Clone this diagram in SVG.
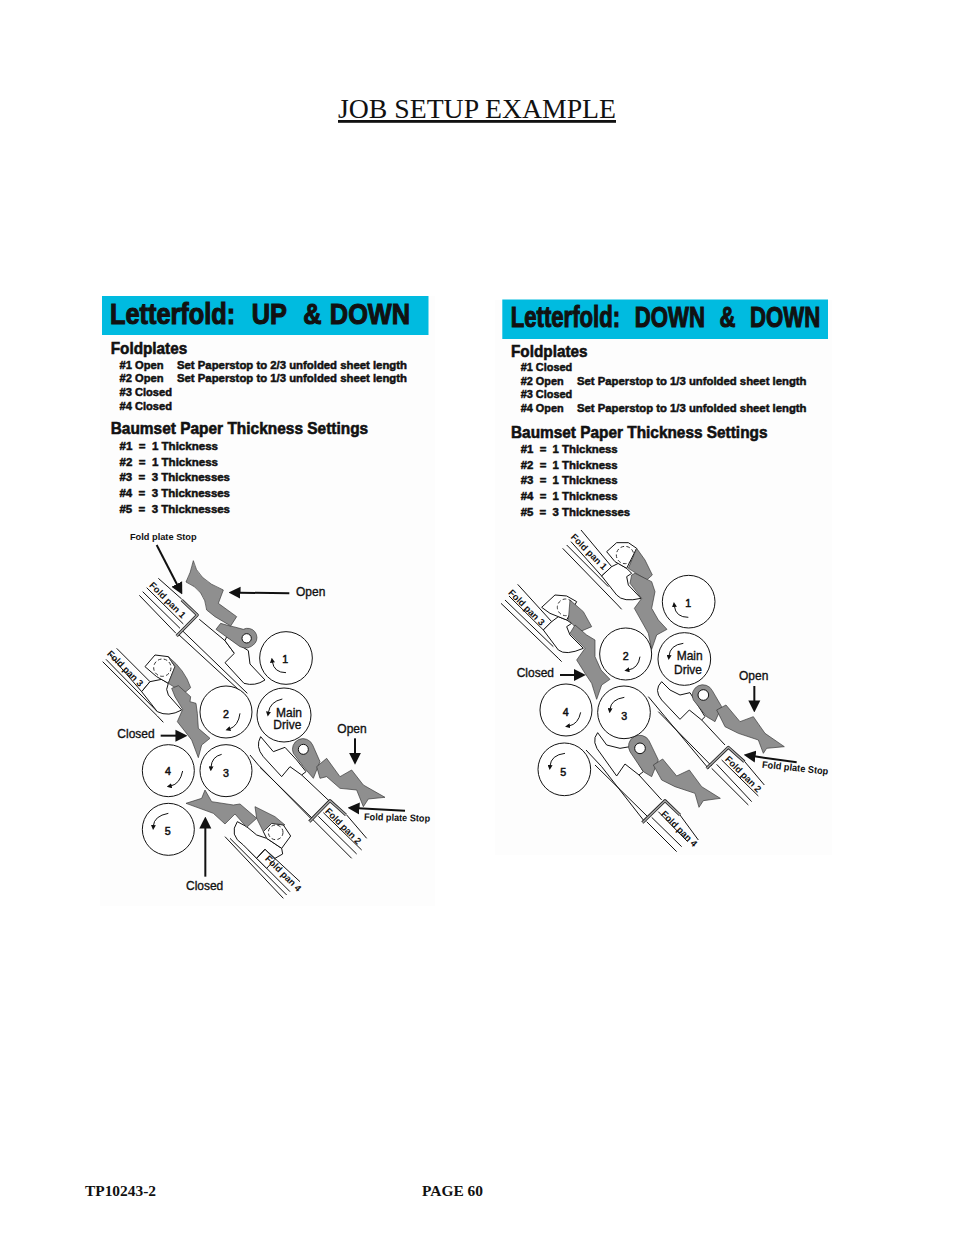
<svg xmlns="http://www.w3.org/2000/svg" width="954" height="1235" viewBox="0 0 954 1235">
<style>
text{font-family:"Liberation Sans",Arial,sans-serif;fill:#111;white-space:pre}
.serif{font-family:"Liberation Serif","Times New Roman",serif}
.h1{font-size:29px;font-weight:bold;stroke:#111;stroke-width:1.100;word-spacing:1.500px}
.h2{font-size:17px;font-weight:bold;stroke:#111;stroke-width:.6}
.t{font-size:11.500px;font-weight:bold;stroke:#111;stroke-width:.5}
.n{font-size:32px;stroke:#111;stroke-width:1.500;text-anchor:middle}
.l{font-size:36px;stroke:#111;stroke-width:1}
.s{font-size:29px;font-weight:bold}
.p{font-size:28px;font-weight:bold;text-anchor:middle}
.ln{fill:none;stroke:#111;stroke-width:3;stroke-linejoin:round}
.c{fill:#fff;stroke:#111;stroke-width:3}
.g{fill:#8f8f8f;stroke:#333;stroke-width:2;stroke-linejoin:round}
.w{fill:#fff;stroke:#111;stroke-width:3;stroke-linejoin:round}
.d{fill:none;stroke:#333;stroke-width:3;stroke-dasharray:11 7}
.bar{fill:none;stroke:#222;stroke-width:9;stroke-linejoin:round}
.bi{fill:none;stroke:#aaa;stroke-width:4;stroke-linejoin:round}
.a{fill:none;stroke:#111;stroke-width:6;marker-end:url(#big)}
.r{fill:none;stroke:#111;stroke-width:3;marker-end:url(#small)}
</style>
<defs>
<marker id="big" viewBox="0 0 10 10" refX="1" refY="5" markerUnits="userSpaceOnUse" markerWidth="36" markerHeight="38" orient="auto"><path d="M0 0L10 5L0 10Z" fill="#111"/></marker>
<marker id="small" viewBox="0 0 10 10" refX="2" refY="5" markerUnits="userSpaceOnUse" markerWidth="16" markerHeight="15" orient="auto"><path d="M0 0L10 5L0 10Z" fill="#111"/></marker>
</defs>
<rect width="954" height="1235" fill="#fff"/>
<rect x="100" y="296" width="335" height="610" fill="#fdfdfd"/>
<rect x="495" y="300" width="337" height="555" fill="#fdfdfd"/>

<g id="page-text">
<text class="serif" x="338" y="118" font-size="28" textLength="278" lengthAdjust="spacingAndGlyphs" text-decoration="underline">JOB SETUP EXAMPLE</text>
<text class="serif" x="85" y="1196" font-size="14" font-weight="bold" textLength="71" lengthAdjust="spacingAndGlyphs">TP10243-2</text>
<text class="serif" x="422" y="1196" font-size="14" font-weight="bold" textLength="61" lengthAdjust="spacingAndGlyphs">PAGE 60</text>
</g>

<g id="left-settings">
<rect x="102" y="296" width="326.500" height="39" fill="#00bbe0"/>
<text class="h1" x="110" y="324" textLength="300" lengthAdjust="spacingAndGlyphs">Letterfold:  UP  &amp; DOWN</text>
<text class="h2" x="110.700" y="353.500" textLength="76.500" lengthAdjust="spacingAndGlyphs">Foldplates</text>
<text class="t" x="119.500" y="369" textLength="44" lengthAdjust="spacingAndGlyphs">#1 Open</text>
<text class="t" x="177" y="369" textLength="230" lengthAdjust="spacingAndGlyphs">Set Paperstop to 2/3 unfolded sheet length</text>
<text class="t" x="119.500" y="382" textLength="44" lengthAdjust="spacingAndGlyphs">#2 Open</text>
<text class="t" x="177" y="382" textLength="230" lengthAdjust="spacingAndGlyphs">Set Paperstop to 1/3 unfolded sheet length</text>
<text class="t" x="119.500" y="395.700" textLength="52.500" lengthAdjust="spacingAndGlyphs">#3 Closed</text>
<text class="t" x="119.500" y="410" textLength="52.500" lengthAdjust="spacingAndGlyphs">#4 Closed</text>
<text class="h2" x="110.700" y="434" textLength="257.500" lengthAdjust="spacingAndGlyphs">Baumset Paper Thickness Settings</text>
<text class="t" x="119.500" y="450" textLength="98.500" lengthAdjust="spacingAndGlyphs">#1  =  1 Thickness</text>
<text class="t" x="119.500" y="465.700" textLength="98.500" lengthAdjust="spacingAndGlyphs">#2  =  1 Thickness</text>
<text class="t" x="119.500" y="481" textLength="110.500" lengthAdjust="spacingAndGlyphs">#3  =  3 Thicknesses</text>
<text class="t" x="119.500" y="497" textLength="110.500" lengthAdjust="spacingAndGlyphs">#4  =  3 Thicknesses</text>
<text class="t" x="119.500" y="512.700" textLength="110.500" lengthAdjust="spacingAndGlyphs">#5  =  3 Thicknesses</text>
</g>

<g id="right-settings">
<rect x="502.300" y="299.500" width="325.700" height="39.500" fill="#00bbe0"/>
<text class="h1" x="510.700" y="326.500" textLength="309.500" lengthAdjust="spacingAndGlyphs">Letterfold:  DOWN  &amp;  DOWN</text>
<text class="h2" x="511" y="357" textLength="76.500" lengthAdjust="spacingAndGlyphs">Foldplates</text>
<text class="t" x="520.700" y="371" textLength="51.500" lengthAdjust="spacingAndGlyphs">#1 Closed</text>
<text class="t" x="520.700" y="385" textLength="43" lengthAdjust="spacingAndGlyphs">#2 Open</text>
<text class="t" x="577" y="385" textLength="229.500" lengthAdjust="spacingAndGlyphs">Set Paperstop to 1/3 unfolded sheet length</text>
<text class="t" x="520.700" y="398.300" textLength="51.500" lengthAdjust="spacingAndGlyphs">#3 Closed</text>
<text class="t" x="520.700" y="412" textLength="43" lengthAdjust="spacingAndGlyphs">#4 Open</text>
<text class="t" x="577" y="412" textLength="229.500" lengthAdjust="spacingAndGlyphs">Set Paperstop to 1/3 unfolded sheet length</text>
<text class="h2" x="511" y="437.700" textLength="256.500" lengthAdjust="spacingAndGlyphs">Baumset Paper Thickness Settings</text>
<text class="t" x="520.700" y="453" textLength="97" lengthAdjust="spacingAndGlyphs">#1  =  1 Thickness</text>
<text class="t" x="520.700" y="468.700" textLength="97" lengthAdjust="spacingAndGlyphs">#2  =  1 Thickness</text>
<text class="t" x="520.700" y="484.300" textLength="97" lengthAdjust="spacingAndGlyphs">#3  =  1 Thickness</text>
<text class="t" x="520.700" y="500" textLength="97" lengthAdjust="spacingAndGlyphs">#4  =  1 Thickness</text>
<text class="t" x="520.700" y="516" textLength="109.500" lengthAdjust="spacingAndGlyphs">#5  =  3 Thicknesses</text>
</g>

<g id="left-upper" transform="translate(100,520) scale(.33333)">
<g id="left-pan1">
<path class="ln" d="M118,226L228,340M128,215L240,325M140,203L250,312M175,175L245,237M298,298L375,362L403,400"/>
<path class="ln" d="M245,330L442,520M234,342L430,522"/>
<path class="w" d="M380,350L445,392L450,432L495,480Q465,500 432,490L375,428L403,400L375,362Z"/>
<path class="bar" d="M230,348L292,285L245,240"/><path class="bi" d="M230,348L292,285L245,240"/>
<text class="p" transform="translate(196,247) rotate(45)">Fold pan 1</text>
</g>
<g id="left-plate1">
<path class="g" d="M362,310L348,328L420,380Q445,392 465,370A28,28 0 0 0 430,328L400,320L390,318Z"/>
<circle cx="440" cy="355" r="14" class="w"/>
<path class="g" d="M280,122Q290,178 370,210L355,250L410,290L392,318L345,290L320,270Q315,210 258,186Q272,160 280,122Z"/>
</g>
<g id="left-pan3">
<path class="ln" d="M18,418L172,575M8,425L172,588M50,385L150,485L125,515M30,405L125,515"/>
<path class="ln" d="M172,588L190,607" stroke-width="6"/>
<path class="w" d="M125,515L172,575Q205,592 245,570L205,525L200,508L205,490L185,478L150,485Z"/>
<path class="w" d="M135,440L165,405L205,410L225,440L205,490L170,470Z"/>
<circle class="d" cx="187" cy="443" r="26"/>
<path class="g" d="M205,410Q255,450 272,503L252,520L205,490L225,440Z"/>
<text class="p" transform="translate(69,452) rotate(45)">Fold pan 3</text>
</g>
<g id="left-upper-rollers">
<circle class="c" cx="558" cy="414" r="79"/>
<circle class="c" cx="378" cy="576" r="78"/>
<circle class="c" cx="552" cy="585" r="81"/>
<text class="n" x="556" y="430">1</text>
<text class="n" x="378" y="595">2</text>
<text class="l" x="528" y="590">Main</text>
<path class="r" d="M558,458Q522,458 517,425"/>
<path class="r" d="M547,537Q510,545 505,578"/>
</g>
<g id="left-upper-arrows">
<path class="a" d="M170,75L232,195"/>
<path class="a" d="M568,220L418,218"/>
<text class="s" x="90" y="60" textLength="200" lengthAdjust="spacingAndGlyphs">Fold plate Stop</text>
<text class="l" x="588" y="227">Open</text>
</g>
</g>

<g id="left-lower" transform="translate(100,710) scale(.33333)">
<g id="left-pan2">
<path class="w" d="M482,80Q465,110 490,140L545,200L570,170L605,195L618,185L590,150L555,112L520,125Z"/>
<path class="ln" d="M450,135L475,165L632,325M480,172L640,328M605,195L690,275M640,330L755,445M655,319L770,432M670,308L785,420M740,315L800,385"/>
<path class="bar" d="M628,335L690,272L738,315"/><path class="bi" d="M628,335L690,272L738,315"/>
<text class="p" transform="translate(723,355) rotate(45)">Fold pan 2</text>
</g>
<g id="left-plate2">
<path class="g" d="M580,130A30,30 0 0 1 638,105L660,155L640,205L610,170Z"/>
<circle cx="610" cy="118" r="15" class="w"/>
<path class="g" d="M650,170L680,145L720,200L755,180L790,225L855,262L805,267L790,290L770,240L720,235L680,200L660,205Z"/>
</g>
<g id="left-pan4">
<path class="ln" d="M375,380L550,565M390,385L560,555M445,420L570,545M495,418L600,515"/>
<path class="w" d="M412,335Q385,375 430,405L470,445L495,418L525,445L548,432L545,415L500,385L470,375L440,350Z"/>
<path class="w" d="M495,418L470,445L500,475L525,448Z" stroke="none"/>
<path class="ln" d="M495,418L470,445"/>
<path class="w" d="M490,365L515,340L550,345L572,378L545,415L500,385Z"/>
<circle class="d" cx="527" cy="367" r="22"/>
<path class="g" d="M465,290L525,320L555,345L515,340L490,365L470,325Z"/>
<path class="g" d="M258,280L305,265L315,240L335,275L400,285L420,282L470,325L440,352L405,312L375,342L340,310Z"/>
<text class="p" transform="translate(543,497) rotate(45)">Fold pan 4</text>
</g>
<g id="left-lower-rollers">
<circle class="c" cx="378" cy="182" r="78"/>
<circle class="c" cx="205" cy="182" r="78"/>
<circle class="c" cx="205" cy="358" r="78"/>
<text class="n" x="378" y="202">3</text>
<text class="n" x="204" y="196">4</text>
<text class="n" x="203" y="376">5</text>
<text class="l" x="520" y="58">Drive</text>
<path class="r" d="M420,10Q415,48 388,57"/>
<path class="r" d="M365,133Q335,140 333,172"/>
<path class="r" d="M248,183Q240,222 212,228"/>
<path class="r" d="M205,310Q162,318 160,348"/>
</g>
<g id="left-plate3">
<path class="g" d="M215,-65L235,-73L272,-40L270,-25L288,-20L292,10L295,55L330,85L305,105L295,143L275,90L232,35L248,-2L225,-40Z"/>
</g>
<g id="left-lower-arrows">
<path class="a" d="M765,85L765,132"/>
<path class="a" d="M915,302L775,295"/>
<path class="a" d="M182,77L230,77"/>
<path class="a" d="M316,500L316,352"/>
<text class="l" x="712" y="68">Open</text>
<text class="l" x="52" y="85">Closed</text>
<text class="l" x="258" y="540">Closed</text>
<text class="s" transform="translate(792,330) rotate(1.500)" textLength="198" lengthAdjust="spacingAndGlyphs">Fold plate Stop</text>
</g>
</g>

<g id="right-upper" transform="translate(495,520) scale(.33333)">
<g id="right-pan1">
<path class="ln" d="M203,85L368,255M215,75L340,200M228,65L320,168M258,30L350,140L320,168"/>
<path class="ln" d="M368,255L380,268" stroke-width="6"/>
<path class="w" d="M320,168L365,225Q385,248 438,235L400,195L395,170L410,160L395,145L370,130L350,140Z"/>
<path class="w" d="M335,95L365,68L400,68L425,85L395,145L360,125Z"/>
<circle class="d" cx="390" cy="105" r="26"/>
<path class="g" d="M425,85L450,120L472,165L455,180L400,145Z"/>
<path class="g" d="M410,165L420,160L470,185L480,215L470,265L490,300L516,328L485,345L470,388L460,340L418,265L440,235L405,190Z"/>
<text class="p" transform="translate(275,102) rotate(45)">Fold pan 1</text>
</g>
<g id="right-pan3">
<path class="ln" d="M18,250L190,415M30,240L175,380M42,228L145,330M68,193L170,305L145,330"/>
<path class="ln" d="M190,415L200,425" stroke-width="6"/>
<path class="w" d="M145,330L190,390Q212,408 265,385L225,345L215,320L230,310L215,300L190,290L170,305Z"/>
<path class="w" d="M140,262L180,225L215,228L245,245L215,300L165,280Z"/>
<circle class="d" cx="212" cy="262" r="25"/>
<path class="g" d="M225,240L265,275L290,320L255,335L220,300Z"/>
<path class="g" d="M225,340L240,315L275,345L300,360L300,410L318,450L345,478L320,495L305,538L290,490L270,460L245,420L270,385Z"/>
<text class="p" transform="translate(88,269) rotate(45)">Fold pan 3</text>
</g>
<g id="right-upper-rollers">
<circle class="c" cx="581" cy="245" r="79"/>
<circle class="c" cx="392" cy="402" r="78"/>
<circle class="c" cx="568" cy="417" r="79"/>
<text class="n" x="580" y="262">1</text>
<text class="n" x="392" y="420">2</text>
<text class="l" x="545" y="420">Main</text>
<text class="l" x="537" y="463">Drive</text>
<path class="r" d="M580,292Q542,292 538,258"/>
<path class="r" d="M565,370Q525,375 522,408"/>
<path class="r" d="M435,410Q430,445 400,450"/>
</g>
<g id="right-upper-arrows">
<path class="a" d="M195,465L240,465"/>
<text class="l" x="65" y="472">Closed</text>
<text class="l" x="732" y="480">Open</text>
</g>
</g>

<g id="right-lower" transform="translate(495,670) scale(.33333)">
<g id="right-pan2">
<path class="w" d="M500,35Q475,60 500,90L555,148L583,120L620,150L630,140L605,100L585,68L555,75L525,60Z"/>
<path class="ln" d="M460,80L510,140L640,295M490,125L650,288M620,150L690,225M650,295L760,405M665,283L770,395M680,270L790,378M745,270L808,345"/>
<path class="bar" d="M635,295L700,232L748,275"/><path class="bi" d="M635,295L700,232L748,275"/>
<text class="p" transform="translate(738,319) rotate(45)">Fold pan 2</text>
</g>
<g id="right-plate2">
<path class="g" d="M595,90A30,30 0 0 1 652,62L680,110L660,155L635,140Z"/>
<circle cx="625" cy="75" r="16" class="w"/>
<path class="g" d="M665,120L693,105L735,155L775,140L810,190L868,230L815,235L805,250L790,210L730,190L690,170Z"/>
</g>
<g id="right-pan4">
<path class="w" d="M308,188Q285,215 320,255L365,318L390,282L432,315L445,305L420,262L405,230L375,235L335,225Z"/>
<path class="ln" d="M273,240L320,290L445,450M300,285L458,440M432,315L500,390M455,455L545,545M470,442L560,530M490,425L578,515M555,435L610,510"/>
<path class="bar" d="M442,458L510,392L555,435"/><path class="bi" d="M442,458L510,392L555,435"/>
<text class="p" transform="translate(546,483) rotate(45)">Fold pan 4</text>
</g>
<g id="right-plate4">
<path class="g" d="M405,245A30,30 0 0 1 462,212L490,270L470,320L445,305Z"/>
<circle cx="435" cy="235" r="16" class="w"/>
<path class="g" d="M475,285L503,267L545,318L583,300L620,350L676,385L625,392L612,412L600,370L540,350L500,330Z"/>
</g>
<g id="right-lower-rollers">
<circle class="c" cx="387" cy="127" r="79"/>
<circle class="c" cx="213" cy="120" r="78"/>
<circle class="c" cx="208" cy="298" r="79"/>
<text class="n" x="388" y="150">3</text>
<text class="n" x="212" y="137">4</text>
<text class="n" x="205" y="318">5</text>
<path class="r" d="M388,82Q348,88 345,118"/>
<path class="r" d="M257,127Q250,162 222,168"/>
<path class="r" d="M210,250Q168,255 165,288"/>
</g>
<g id="right-lower-arrows">
<path class="a" d="M778,48L778,95"/>
<path class="a" d="M905,277L778,259"/>
<text class="s" transform="translate(800,293) rotate(6)" textLength="200" lengthAdjust="spacingAndGlyphs">Fold plate Stop</text>
</g>
</g>
</svg>
